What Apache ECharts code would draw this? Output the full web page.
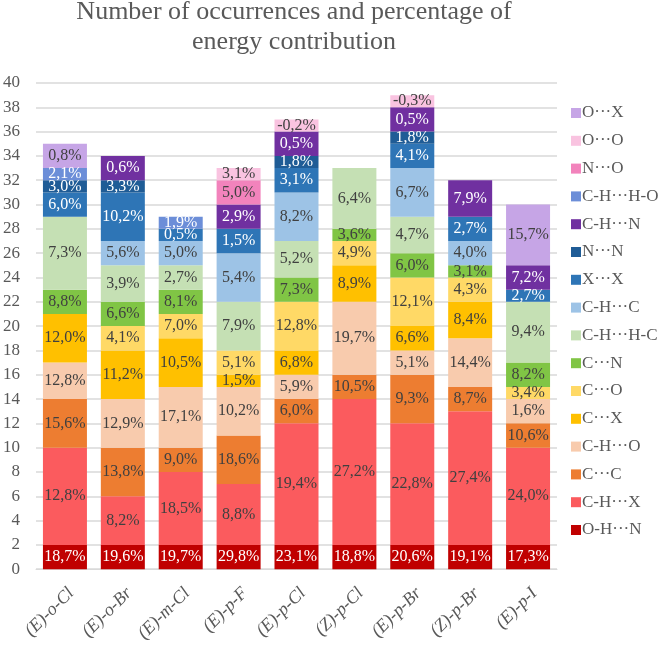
<!DOCTYPE html>
<html>
<head>
<meta charset="utf-8">
<script src="https://cdn.jsdelivr.net/npm/echarts@6/dist/echarts.min.js"></script>
<style>
  html, body { margin: 0; padding: 0; background: #fff; }
  #chart { width: 661px; height: 645px; }
</style>
</head>
<body>
<div id="chart"></div>
<script>
// compounds
const categories = ['(E)-o-Cl', '(E)-o-Br', '(E)-m-Cl', '(E)-p-F', '(E)-p-Cl', '(Z)-p-Cl', '(E)-p-Br', '(Z)-p-Br', '(E)-p-I']

// number of occurrences per contact type (bottom of the stack first)
const cntOHN = [2, 2, 2, 2, 2, 2, 2, 2, 2]
const cntCHX = [8, 4, 6, 5, 10, 12, 10, 11, 8]
const cntCC = [4, 4, 2, 4, 2, 2, 4, 2, 2]
const cntCHO = [3, 4, 5, 4, 2, 6, 2, 4, 2]
const cntCX = [4, 4, 4, 1, 2, 3, 2, 3, null]
const cntCO = [null, 2, 2, 2, 4, 2, 4, 2, 1]
const cntCN = [2, 2, 2, null, 2, 1, 2, 1, 2]
const cntCHHC = [6, 3, 2, 4, 3, 5, 3, null, 5]
const cntCHC = [null, 2, 2, 4, 4, null, 4, 2, null]
const cntXX = [2, 4, 1, 2, 2, null, 2, 2, 1]
const cntNN = [1, 1, null, null, 1, null, 1, null, null]
const cntCHN = [null, 2, null, 2, 2, null, 2, 3, 2]
const cntCHHO = [1, null, 1, null, null, null, null, null, null]
const cntNO = [null, null, null, 2, null, null, null, null, null]
const cntOO = [null, null, null, 1, 1, null, 1, null, null]
const cntOX = [2, null, null, null, null, null, null, null, 5]

// percentage of energy contribution (segment labels)
const pctOHN = ['18,7%', '19,6%', '19,7%', '29,8%', '23,1%', '18,8%', '20,6%', '19,1%', '17,3%']
const pctCHX = ['12,8%', '8,2%', '18,5%', '8,8%', '19,4%', '27,2%', '22,8%', '27,4%', '24,0%']
const pctCC = ['15,6%', '13,8%', '9,0%', '18,6%', '6,0%', '10,5%', '9,3%', '8,7%', '10,6%']
const pctCHO = ['12,8%', '12,9%', '17,1%', '10,2%', '5,9%', '19,7%', '5,1%', '14,4%', '1,6%']
const pctCX = ['12,0%', '11,2%', '10,5%', '1,5%', '6,8%', '8,9%', '6,6%', '8,4%', '']
const pctCO = ['', '4,1%', '7,0%', '5,1%', '12,8%', '4,9%', '12,1%', '4,3%', '3,4%']
const pctCN = ['8,8%', '6,6%', '8,1%', '', '7,3%', '3,6%', '6,0%', '3,1%', '8,2%']
const pctCHHC = ['7,3%', '3,9%', '2,7%', '7,9%', '5,2%', '6,4%', '4,7%', '', '9,4%']
const pctCHC = ['', '5,6%', '5,0%', '5,4%', '8,2%', '', '6,7%', '4,0%', '']
const pctXX = ['6,0%', '10,2%', '0,5%', '1,5%', '3,1%', '', '4,1%', '2,7%', '2,7%']
const pctNN = ['3,0%', '3,3%', '', '', '1,8%', '', '1,8%', '', '']
const pctCHN = ['', '0,6%', '', '2,9%', '0,5%', '', '0,5%', '7,9%', '7,2%']
const pctCHHO = ['2,1%', '', '1,9%', '', '', '', '', '', '']
const pctNO = ['', '', '', '5,0%', '', '', '', '', '']
const pctOO = ['', '', '', '3,1%', '-0,2%', '', '-0,3%', '', '']
const pctOX = ['0,8%', '', '', '', '', '', '', '', '15,7%']

const yTicks = { min: 0, max: 40, interval: 2 }

const serif = '"Liberation Serif", "DejaVu Serif", serif'
const gray = '#595959'

// name, counts, labels, colour, white label?
const stack = [
  ['O-H\u00b7\u00b7\u00b7N', cntOHN, pctOHN, '#C00000', true],
  ['C-H\u00b7\u00b7\u00b7X', cntCHX, pctCHX, '#FB5B5E', false],
  ['C\u00b7\u00b7\u00b7C', cntCC, pctCC, '#ED7D31', false],
  ['C-H\u00b7\u00b7\u00b7O', cntCHO, pctCHO, '#F8CBAD', false],
  ['C\u00b7\u00b7\u00b7X', cntCX, pctCX, '#FFC000', false],
  ['C\u00b7\u00b7\u00b7O', cntCO, pctCO, '#FFD966', false],
  ['C\u00b7\u00b7\u00b7N', cntCN, pctCN, '#80C545', false],
  ['C-H\u00b7\u00b7\u00b7H-C', cntCHHC, pctCHHC, '#C5E0B4', false],
  ['C-H\u00b7\u00b7\u00b7C', cntCHC, pctCHC, '#9DC3E6', false],
  ['X\u00b7\u00b7\u00b7X', cntXX, pctXX, '#2E75B6', true],
  ['N\u00b7\u00b7\u00b7N', cntNN, pctNN, '#1F5C96', true],
  ['C-H\u00b7\u00b7\u00b7N', cntCHN, pctCHN, '#7030A0', true],
  ['C-H\u00b7\u00b7\u00b7H-O', cntCHHO, pctCHHO, '#6C8ED8', true],
  ['N\u00b7\u00b7\u00b7O', cntNO, pctNO, '#F283BC', false],
  ['O\u00b7\u00b7\u00b7O', cntOO, pctOO, '#F9C3E0', false],
  ['O\u00b7\u00b7\u00b7X', cntOX, pctOX, '#C6A5E6', false]
]

const chart = echarts.init(document.getElementById('chart'), null, { renderer: 'canvas' })

chart.setOption({
  animation: false,
  title: {
    text: 'Number of occurrences and percentage of\nenergy contribution',
    left: 294,
    top: -3,
    textAlign: 'center',
    padding: 0,
    textStyle: {
      fontFamily: serif,
      fontSize: 26,
      fontWeight: 'normal',
      color: gray,
      lineHeight: 30
    }
  },
  legend: {
    orient: 'vertical',
    left: 566,
    top: 99,
    itemWidth: 10,
    itemHeight: 10,
    itemGap: 9.8,
    icon: 'rect',
    data: stack.map((s) => s[0]).reverse(),
    textStyle: {
      fontFamily: serif,
      fontSize: 17,
      lineHeight: 18,
      color: gray,
      padding: [0, 0, 0, -4]
    }
  },
  grid: {
    left: 36,
    right: 104,
    top: 83,
    bottom: 73,
    containLabel: false
  },
  xAxis: {
    type: 'category',
    data: categories,
    axisTick: { show: false },
    axisLine: { lineStyle: { color: '#D9D9D9' } },
    axisLabel: {
      rotate: 45,
      interval: 0,
      margin: 15,
      align: 'right',
      verticalAlign: 'top',
      fontFamily: serif,
      fontStyle: 'italic',
      fontSize: 18,
      color: gray
    }
  },
  yAxis: {
    type: 'value',
    min: yTicks.min,
    max: yTicks.max,
    interval: yTicks.interval,
    axisLine: { show: false },
    axisTick: { show: false },
    splitLine: { lineStyle: { color: '#D9D9D9', width: 1.5 } },
    axisLabel: {
      margin: 16,
      fontFamily: serif,
      fontSize: 17,
      color: gray
    }
  },
  series: stack.map((s) => ({
    name: s[0],
    type: 'bar',
    stack: 'total',
    barWidth: 44,
    itemStyle: { color: s[3] },
    label: {
      show: true,
      position: 'inside',
      fontFamily: serif,
      fontSize: 16,
      color: s[4] ? '#FFFFFF' : '#404040',
      formatter: (p) => s[2][p.dataIndex]
    },
    data: s[1]
  }))
})
</script>
</body>
</html>
